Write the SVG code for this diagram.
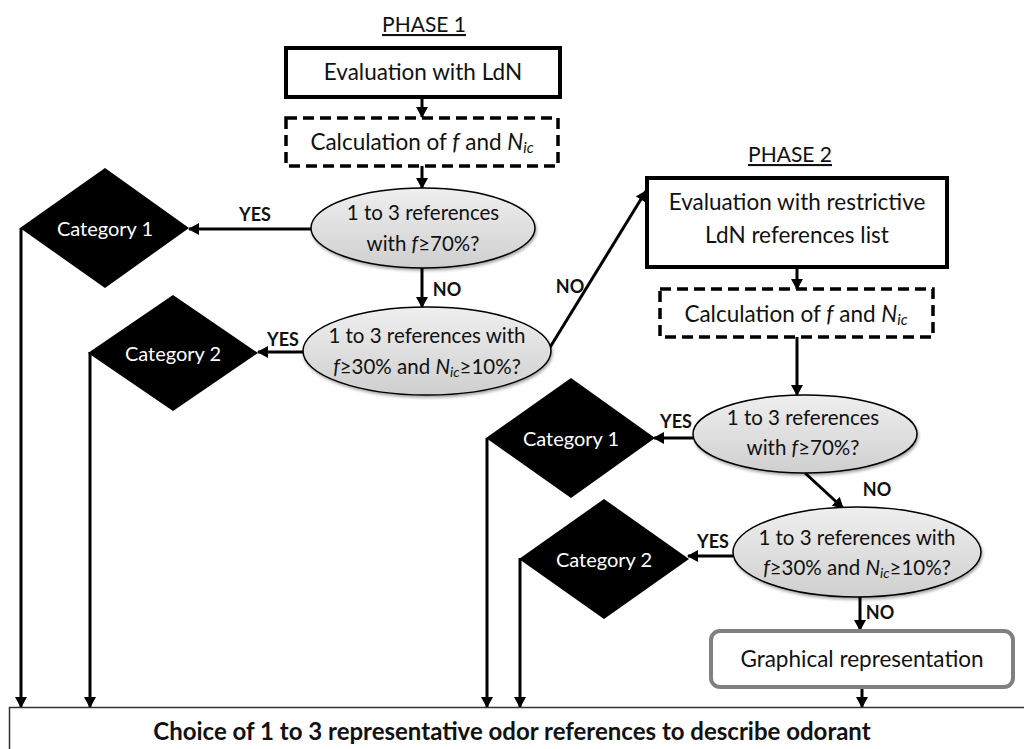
<svg xmlns="http://www.w3.org/2000/svg" width="1024" height="749" viewBox="0 0 1024 749">
<style>
text{font-family:Lato,"Open Sans","Liberation Sans",sans-serif;font-size:22.5px;fill:#111}
.c{text-anchor:middle}
.w{fill:#fff;font-size:20px}
.e{font-size:20.5px}
.b{font-weight:bold;font-size:24px}
.ph{font-size:21px}
.lbl{font-weight:bold;font-size:18px}
.box{fill:#fff;stroke:#000;stroke-width:4}
.dash{fill:#fff;stroke:#000;stroke-width:3.5;stroke-dasharray:11 6}
.ell{fill:url(#g);stroke:#000;stroke-width:1.5;filter:url(#sh)}
.dia{fill:#000}
.ln{fill:none;stroke:#000;stroke-width:3;marker-end:url(#ah)}
</style>
<defs>
<linearGradient id="g" x1="0" y1="0" x2="0" y2="1">
<stop offset="0" stop-color="#efefef"/>
<stop offset="1" stop-color="#cfcfcf"/>
</linearGradient>
<filter id="sh" x="-10%" y="-10%" width="125%" height="130%">
<feDropShadow dx="1" dy="2" stdDeviation="1.5" flood-color="#000" flood-opacity="0.35"/>
</filter>
<marker id="ah" markerUnits="userSpaceOnUse" markerWidth="12" markerHeight="12" refX="10" refY="6" orient="auto">
<path d="M0,0 L11,6 L0,12 Z" fill="#000"/>
</marker>
</defs>
<rect width="1024" height="749" fill="#fff"/>

<g id="phase1-title"><text x="424" y="32" class="c ph" text-decoration="underline">PHASE 1</text></g>
<g id="phase2-title"><text x="790" y="162" class="c ph" text-decoration="underline">PHASE 2</text></g>

<g id="connectors">
<line class="ln" x1="422" y1="97" x2="422" y2="117"/>
<line class="ln" x1="422" y1="166" x2="422" y2="188"/>
<line class="ln" x1="311" y1="229" x2="189" y2="229"/>
<line class="ln" x1="422" y1="268" x2="422" y2="307"/>
<line class="ln" x1="303" y1="352" x2="258" y2="352"/>
<line class="ln" x1="549" y1="349" x2="646" y2="191"/>
<line class="ln" x1="797" y1="267" x2="797" y2="289"/>
<line class="ln" x1="797" y1="337" x2="797" y2="395"/>
<line class="ln" x1="693" y1="438" x2="654" y2="438"/>
<line class="ln" x1="805" y1="473" x2="843" y2="508"/>
<line class="ln" x1="733" y1="556" x2="688" y2="556"/>
<line class="ln" x1="860" y1="597" x2="860" y2="630"/>
<line class="ln" x1="862" y1="687" x2="862" y2="707"/>
<line class="ln" x1="21" y1="228" x2="21" y2="707"/>
<line class="ln" x1="90" y1="352" x2="90" y2="707"/>
<line class="ln" x1="487" y1="438" x2="487" y2="707"/>
<line class="ln" x1="520" y1="558" x2="520" y2="707"/>
<text x="255" y="221" class="c lbl">YES</text>
<text x="447" y="296" class="c lbl">NO</text>
<text x="283" y="346" class="c lbl">YES</text>
<text x="570" y="293" class="c lbl">NO</text>
<text x="676" y="428" class="c lbl">YES</text>
<text x="877" y="496" class="c lbl">NO</text>
<text x="713" y="548" class="c lbl">YES</text>
<text x="880" y="619" class="c lbl">NO</text>
</g>

<g id="eval-ldn">
<rect class="box" x="286" y="48" width="274" height="49"/>
<text x="423" y="80" class="c">Evaluation with LdN</text>
</g>
<g id="calc1">
<rect class="dash" x="286" y="118" width="272" height="48"/>
<text x="422" y="150" class="c">Calculation of <tspan font-style="italic">f</tspan> and <tspan font-style="italic">N</tspan><tspan font-style="italic" font-size="15" dy="3">ic</tspan></text>
</g>
<g id="q1">
<ellipse class="ell" cx="423" cy="228" rx="112" ry="40"/>
<text x="423" y="220" class="c e">1 to 3 references</text>
<text x="423" y="251" class="c e">with <tspan font-style="italic">f</tspan>≥70%?</text>
</g>
<g id="cat1">
<polygon class="dia" points="20,228 105,168 189,228 105,288"/>
<text x="105" y="236" class="c w">Category 1</text>
</g>
<g id="q2">
<ellipse class="ell" cx="427" cy="351" rx="124" ry="44"/>
<text x="427" y="343" class="c e">1 to 3 references with</text>
<text x="427" y="374" class="c e"><tspan font-style="italic">f</tspan>≥30% and <tspan font-style="italic">N</tspan><tspan font-style="italic" font-size="14" dy="3">ic</tspan><tspan dy="-3">≥10%?</tspan></text>
</g>
<g id="cat2">
<polygon class="dia" points="88,353 173,295 258,353 173,411"/>
<text x="173" y="361" class="c w">Category 2</text>
</g>

<g id="eval-restrictive">
<rect class="box" x="647" y="178" width="300" height="89"/>
<text x="797" y="210" class="c">Evaluation with restrictive</text>
<text x="797" y="243" class="c">LdN references list</text>
</g>
<g id="calc2">
<rect class="dash" x="660" y="289" width="273" height="48"/>
<text x="796" y="322" class="c">Calculation of <tspan font-style="italic">f</tspan> and <tspan font-style="italic">N</tspan><tspan font-style="italic" font-size="15" dy="3">ic</tspan></text>
</g>
<g id="q3">
<ellipse class="ell" cx="805" cy="434" rx="112" ry="39"/>
<text x="803" y="425" class="c e">1 to 3 references</text>
<text x="803" y="455" class="c e">with <tspan font-style="italic">f</tspan>≥70%?</text>
</g>
<g id="cat1b">
<polygon class="dia" points="486,438 571,378 655,438 571,498"/>
<text x="571" y="446" class="c w">Category 1</text>
</g>
<g id="q4">
<ellipse class="ell" cx="857" cy="552" rx="124" ry="45"/>
<text x="857" y="545" class="c e">1 to 3 references with</text>
<text x="857" y="575" class="c e"><tspan font-style="italic">f</tspan>≥30% and <tspan font-style="italic">N</tspan><tspan font-style="italic" font-size="14" dy="3">ic</tspan><tspan dy="-3">≥10%?</tspan></text>
</g>
<g id="cat2b">
<polygon class="dia" points="519,559 604,499 689,559 604,619"/>
<text x="604" y="567" class="c w">Category 2</text>
</g>
<g id="graphical">
<rect x="711" y="631" width="302" height="56" rx="9" fill="#fff" stroke="#808080" stroke-width="4"/>
<text x="862" y="667" class="c">Graphical representation</text>
</g>
<g id="choice">
<rect x="9.5" y="707.5" width="1030" height="60" fill="#fff" stroke="#333" stroke-width="1.5"/>
<text x="512" y="740" class="c b">Choice of 1 to 3 representative odor references to describe odorant</text>
</g>
</svg>
